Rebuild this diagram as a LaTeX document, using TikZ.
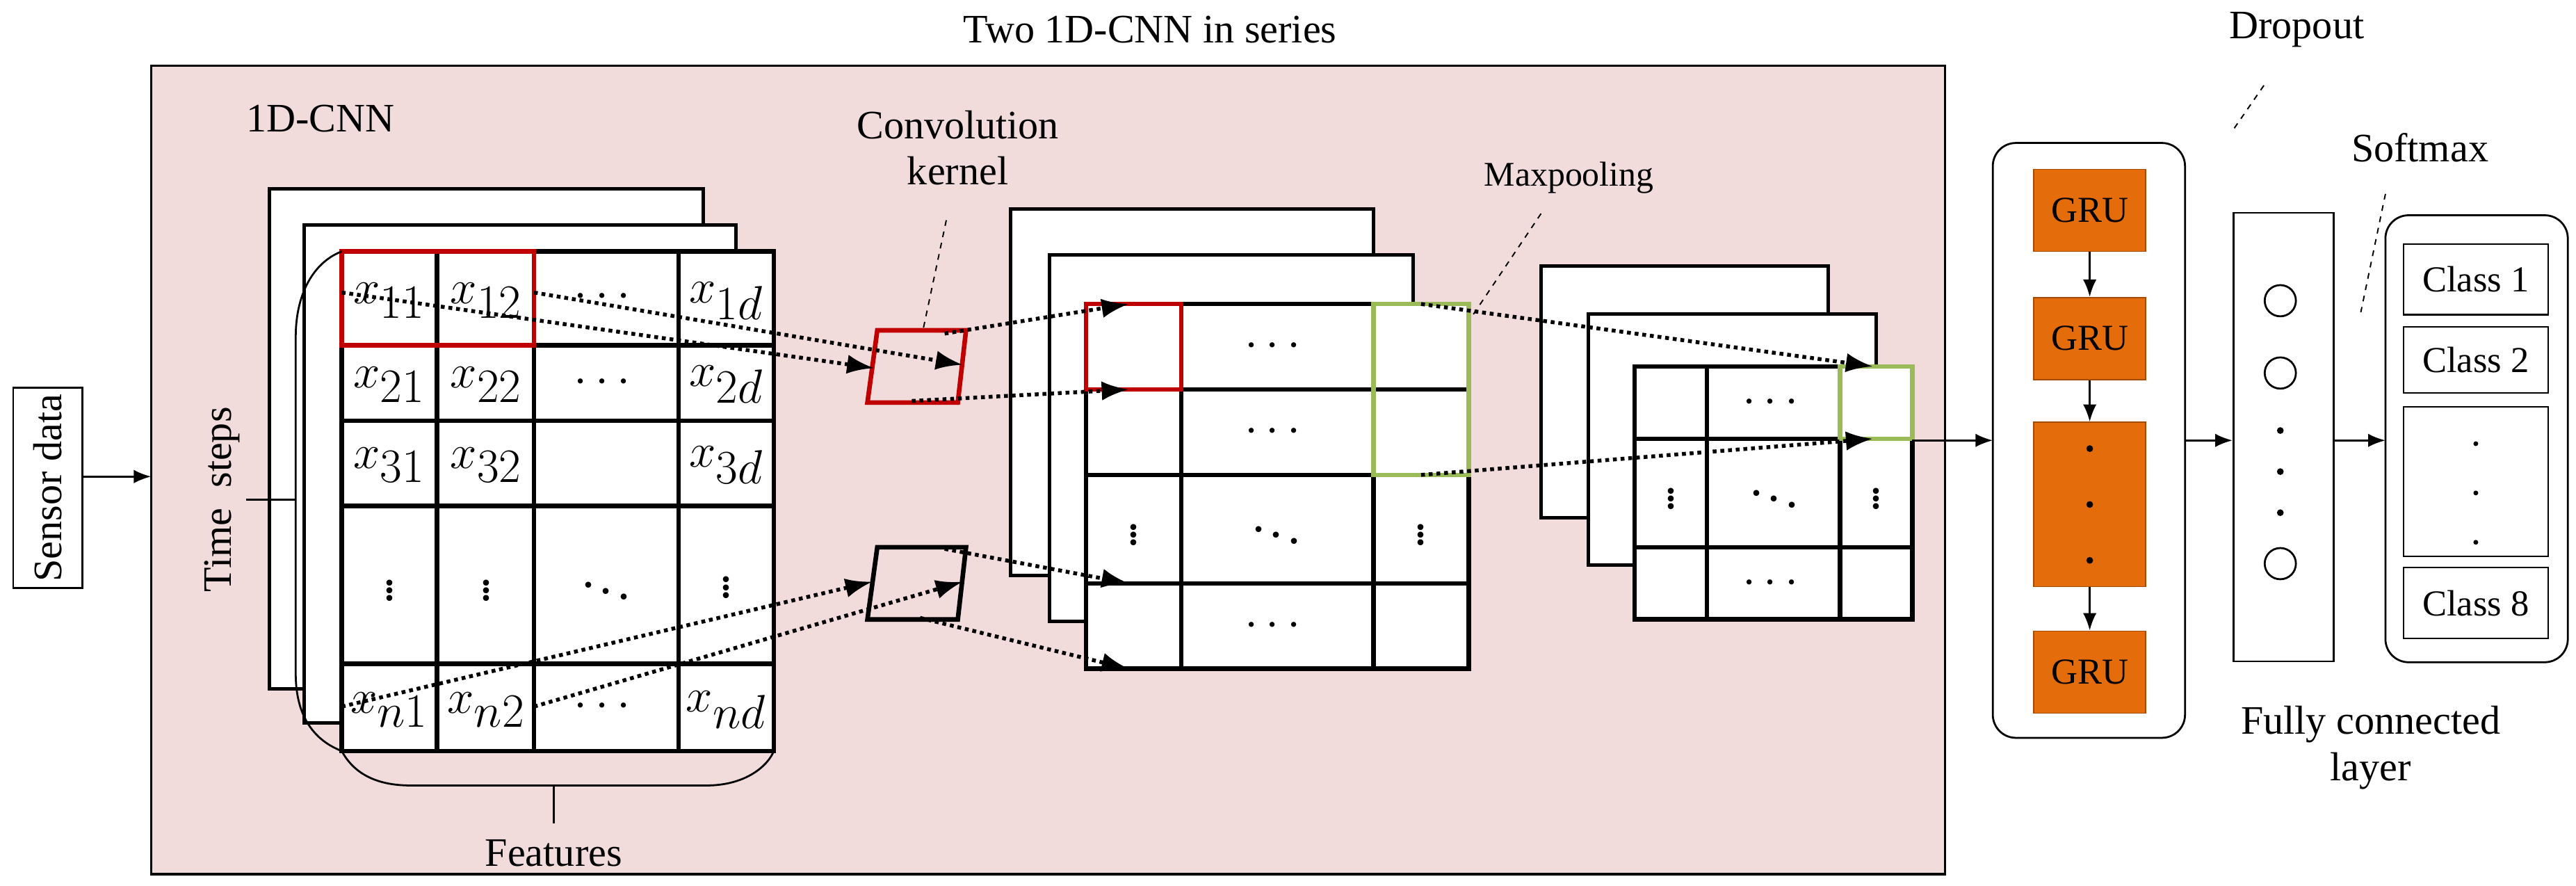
\documentclass[tikz,border=0pt]{standalone}
\usepackage{amsmath}
\usepackage{fontspec}
\setmainfont{Liberation Serif}
\usetikzlibrary{arrows.meta}
\definecolor{pinkbg}{RGB}{242,220,219}
\definecolor{kred}{RGB}{192,0,0}
\definecolor{kgreen}{RGB}{155,187,89}
\definecolor{gruorange}{RGB}{228,108,10}
\tikzset{
  frame/.style={line width=1.8pt,fill=white},
  grid/.style={line width=2.4pt},
  flow/.style={line width=2pt,dotted,-{Latex[length=14pt,width=10pt]}},
  leader/.style={line width=0.7pt,dashed},
  lbl/.style={font=\fontsize{21}{24}\selectfont,align=center},
  cell/.style={font=\fontsize{36}{36}\selectfont,inner sep=0pt},
  dts/.style={font=\fontsize{26}{26}\selectfont,inner sep=0pt},
  gru/.style={fill=gruorange,draw=gruorange!70!black,line width=0.6pt,minimum width=68*0.03cm,font=\fontsize{19}{20}\selectfont},
  cls/.style={draw,line width=0.8pt,minimum width=88*0.03cm,font=\fontsize{19}{20}\selectfont},
  line/.style={line width=1pt,-{Latex[length=9pt,width=7pt]}},
  pt/.style={fill=black,circle,inner sep=0pt,minimum size=3.5pt}
}
\begin{document}
\begin{tikzpicture}[x=0.03cm,y=-0.03cm]
		\useasboundingbox (0,0) rectangle (1568,539);
		\fill[pinkbg] (92,40) rectangle (1184,532);
		\draw[line width=1.2pt] (92,40) rectangle (1184,532);
		\node[lbl] (title) at (700,18) {Two 1D-CNN in series};
		\node[lbl] (cnnlbl) at (195,72) {1D-CNN};

		% sensor input
		\node[draw,line width=1pt,rotate=90,minimum width=119*0.03cm,minimum height=42*0.03cm,lbl] (sensor) at (29,297) {Sensor data};
		\coordinate (inA) at (92,290);
		\draw[line] (sensor.south |- inA) -- (inA);

		% input matrix
		\draw[frame] (164,115) rectangle (428,419);
		\draw[frame] (185,137) rectangle (448,440);
		\draw[frame,line width=2.4pt] (208,153) rectangle (471,457);
		\foreach \x in {266,325,413}
		\draw[grid] (\x,153) -- (\x,457);
		\foreach \y in {210,256,308,404}
		\draw[grid] (208,\y) -- (471,\y);
		\node[cell] (x11) at (237,183) {$x_{11}$};
		\node[cell] (x12) at (296,183) {$x_{12}$};
		\node[cell] (x1c) at (369,181) {$\cdots$};
		\node[cell] (x1d) at (442,183) {$x_{1d}$};
		\node[cell] (x21) at (237,234) {$x_{21}$};
		\node[cell] (x22) at (296,234) {$x_{22}$};
		\node[cell] (x2c) at (369,233) {$\cdots$};
		\node[cell] (x2d) at (442,234) {$x_{2d}$};
		\node[cell] (x31) at (237,283) {$x_{31}$};
		\node[cell] (x32) at (296,283) {$x_{32}$};
		\node[cell] (x3d) at (442,283) {$x_{3d}$};
		\node[dts] (v1) at (237,356) {$\vdots$};
		\node[dts] (v2) at (296,356) {$\vdots$};
		\node[dts] (vd) at (369,356) {$\ddots$};
		\node[dts] (v4) at (442,354) {$\vdots$};
		\node[cell] (xn1) at (237,432) {$x_{n1}$};
		\node[cell] (xn2) at (296,432) {$x_{n2}$};
		\node[cell] (xnc) at (369,430) {$\cdots$};
		\node[cell] (xnd) at (442,432) {$x_{nd}$};
		\draw[kred,grid] (208,153) rectangle (325,210);

		% braces
		\draw[line width=1pt] (208,153) .. controls (190,160) and (180,180) .. (180,205) -- (180,410) .. controls (180,440) and (195,452) .. (208,457);
		\draw[line width=1pt] (180,304) -- (150,304);
		\node[lbl,rotate=90] (tsteps) at (135,304) {Time \ steps};
		\draw[line width=1pt] (208,457) .. controls (215,470) and (228,478) .. (250,478) -- (430,478) .. controls (455,478) and (468,465) .. (471,457);
		\draw[line width=1pt] (337,478) -- (337,501);
		\node[lbl] (feat) at (337,519) {Features};

		% kernels
		\draw[kred,grid] (534,201) -- (588,201) -- (583,245) -- (528,245) -- cycle;
		\draw[grid] (534,333) -- (588,333) -- (583,377) -- (528,377) -- cycle;
		\node[lbl] (convlbl) at (583,90) {Convolution\\kernel};
		\coordinate (convA) at (576,134);
		\coordinate (convB) at (562,200);
		\draw[leader] (convA) -- (convB);
		\coordinate (k1l) at (532,224);
		\coordinate (k1r) at (586,222);
		\coordinate (k2l) at (531,354);
		\coordinate (k2r) at (586,354);
		\coordinate (s11) at (208,178);
		\coordinate (s12) at (325,178);
		\coordinate (sn1) at (208,430);
		\coordinate (sn2) at (325,430);
		\draw[flow] (s11) -- (k1l);
		\draw[flow] (s12) -- (k1r);
		\draw[flow] (sn1) -- (k2l);
		\draw[flow] (sn2) -- (k2r);

		% second feature maps
		\draw[frame] (615,127) rectangle (836,350);
		\draw[frame] (639,155) rectangle (860,378);
		\draw[frame,line width=2.4pt] (661,185) rectangle (894,407);
		\foreach \x in {719,836}
		\draw[grid] (\x,185) -- (\x,407);
		\foreach \y in {237,289,355}
		\draw[grid] (661,\y) -- (894,\y);
		\node[dts] (c1) at (777,211) {$\cdots$};
		\node[dts] (c2) at (777,263) {$\cdots$};
		\node[dts] (c3) at (690,322) {$\vdots$};
		\node[dts] (c4) at (777,322) {$\ddots$};
		\node[dts] (c5) at (865,322) {$\vdots$};
		\node[dts] (c6) at (777,381) {$\cdots$};
		\draw[kred,grid] (661,185) rectangle (719,237);
		\draw[kgreen,grid] (836,185) rectangle (894,289);
		\coordinate (t1) at (687,185);
		\coordinate (t2) at (687,237);
		\coordinate (t3) at (687,355);
		\coordinate (t4) at (687,407);
		\coordinate (k1t) at (575,203);
		\coordinate (k1b) at (555,244);
		\coordinate (k2t) at (575,334);
		\coordinate (k2b) at (560,376);
		\draw[flow] (k1t) -- (t1);
		\draw[flow] (k1b) -- (t2);
		\draw[flow] (k2t) -- (t3);
		\draw[flow] (k2b) -- (t4);

		% pooled maps
		\draw[frame] (938,162) rectangle (1113,315);
		\draw[frame] (967,191) rectangle (1142,344);
		\draw[frame,line width=2.4pt] (995,223) rectangle (1164,377);
		\foreach \x in {1039,1120}
		\draw[grid] (\x,223) -- (\x,377);
		\foreach \y in {267,333}
		\draw[grid] (995,\y) -- (1164,\y);
		\node[dts] (p1) at (1080,245) {$\cdots$};
		\node[dts] (p2) at (1017,300) {$\vdots$};
		\node[dts] (p3) at (1080,300) {$\ddots$};
		\node[dts] (p4) at (1142,300) {$\vdots$};
		\node[dts] (p5) at (1080,355) {$\cdots$};
		\draw[kgreen,grid] (1120,223) rectangle (1164,267);
		\coordinate (g1) at (865,185);
		\coordinate (g2) at (865,289);
		\coordinate (q1) at (1140,223);
		\coordinate (q2) at (1140,267);
		\draw[flow] (g1) -- (q1);
		\draw[flow] (g2) -- (q2);
		\node[lbl,font=\fontsize{18}{20}\selectfont] (maxlbl) at (955,108) {Maxpooling};
		\coordinate (maxA) at (938,130);
		\coordinate (maxB) at (895,194);
		\draw[leader] (maxA) -- (maxB);

		% GRU stack
		\draw[line width=1pt,fill=white,rounded corners=12pt] (1213,87) rectangle (1330,449);
		\node[gru,minimum height=50*0.03cm] (gru1) at (1272,128) {GRU};
		\node[gru,minimum height=50*0.03cm] (gru2) at (1272,206) {GRU};
		\node[gru,minimum height=100*0.03cm] (gru3) at (1272,307) {};
		\foreach \y in {273,307,341}
		\node[pt] at (1272,\y) {};
		\node[gru,minimum height=50*0.03cm] (gru4) at (1272,409) {GRU};
		\draw[line] (gru1) -- (gru2);
		\draw[line] (gru2) -- (gru3);
		\draw[line] (gru3) -- (gru4);
		\coordinate (pr) at (1164,268);
		\coordinate (gl) at (1213,268);
		\draw[line] (pr) -- (gl);

		% fully connected
		\node[draw,line width=1pt,fill=white,minimum width=61*0.03cm,minimum height=273*0.03cm] (fc) at (1390,266) {};
		\foreach \y/\n in {183/n1,227/n2,343/n3}
		\node[draw,circle,line width=1pt,minimum size=19*0.03cm,inner sep=0pt] (\n) at (1388,\y) {};
		\foreach \y in {262,287,312}
		\node[pt] at (1388,\y) {};
		\coordinate (gr) at (1330,268);
		\draw[line] (gr) -- (fc.west |- gr);
		\node[lbl] (fclbl) at (1443,455) {Fully connected\\layer};
		\node[lbl] (droplbl) at (1398,18) {Dropout};
		\coordinate (dropA) at (1378,52);
		\coordinate (dropB) at (1360,78);
		\draw[leader] (dropA) -- (dropB);

		% softmax output
		\draw[line width=1pt,fill=white,rounded corners=12pt] (1452,131) rectangle (1563,403);
		\node[cls,minimum height=43*0.03cm] (cl1) at (1507,170) {Class 1};
		\node[cls,minimum height=40*0.03cm] (cl2) at (1507,219) {Class 2};
		\node[cls,minimum height=91*0.03cm] (cldots) at (1507,293) {};
		\foreach \y in {270,300,330}
		\node[pt,minimum size=2.5pt] at (1507,\y) {};
		\node[cls,minimum height=43*0.03cm] (cl8) at (1507,367) {Class 8};
		\coordinate (fr) at (1421,268);
		\coordinate (sl) at (1452,268);
		\draw[line] (fr) -- (sl);
		\node[lbl] (smlbl) at (1473,90) {Softmax};
		\coordinate (smA) at (1452,118);
		\coordinate (smB) at (1437,190);
		\draw[leader] (smA) -- (smB);
\end{tikzpicture}
\end{document}
